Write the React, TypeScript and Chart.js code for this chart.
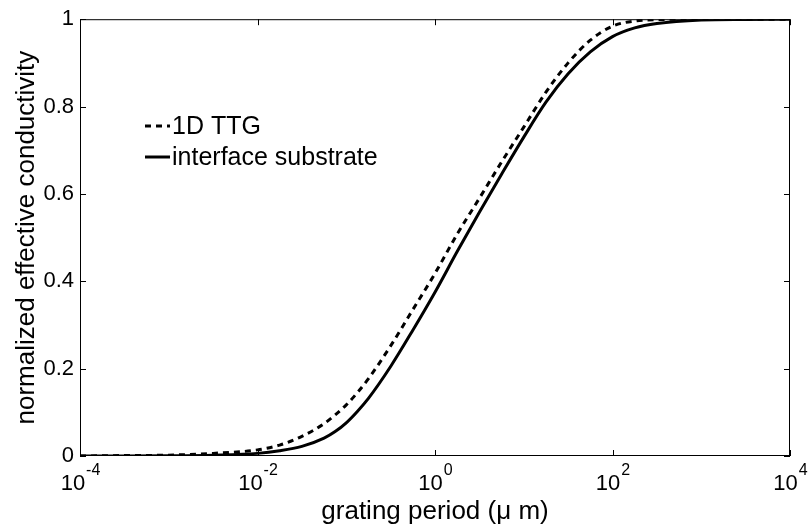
import React, { useEffect, useRef } from 'react';
import { Chart, registerables } from 'chart.js';

Chart.register(...registerables);

// log10 of grating period (µm)
const logPeriod = [-4, -3.5, -3, -2.5, -2, -1.75, -1.5, -1.25, -1.125, -1, -0.875, -0.75, -0.5, -0.25, 0, 0.25, 0.5, 0.75, 1, 1.25, 1.5, 1.75, 2, 2.25, 2.5, 3, 3.5, 4];
const ttg = [0, 0.001, 0.002, 0.006, 0.014, 0.025, 0.045, 0.074, 0.094, 0.117, 0.145, 0.177, 0.252, 0.335, 0.418, 0.508, 0.59, 0.673, 0.753, 0.833, 0.9, 0.952, 0.984, 0.996, 0.999, 1.0, 1.0, 1.0];
const interfaceSub = [0, 0, 0.0005, 0.002, 0.006, 0.012, 0.022, 0.041, 0.056, 0.076, 0.102, 0.132, 0.205, 0.288, 0.375, 0.468, 0.558, 0.645, 0.73, 0.81, 0.875, 0.925, 0.96, 0.98, 0.99, 0.998, 0.9995, 1.0];
const seriesLabels = ['1D TTG', 'interface substrate'];
const xTickExponents = [-4, -2, 0, 2, 4];
const yTickValues = [0, 0.2, 0.4, 0.6, 0.8, 1];
const yTickLabels = ['0', '0.2', '0.4', '0.6', '0.8', '1'];
const xTitle = 'grating period (\u03bc m)';
const yTitle = 'normalized effective conductivity';

const FONT = '"Liberation Sans", Arial, Helvetica, sans-serif';

const framePlugin = {
  id: 'frameAndLabels',
  afterDraw(chart: any) {
    const { ctx, chartArea: a, scales } = chart;
    const xs = scales.x;
    const ys = scales.y;
    ctx.save();
    ctx.strokeStyle = '#000';
    ctx.lineWidth = 1;
    ctx.strokeRect(a.left + 0.5, a.top + 0.5, a.right - a.left - 1, a.bottom - a.top - 1);
    const tl = 6;
    ctx.beginPath();
    xTickExponents.forEach((e) => {
      const px = Math.round(xs.getPixelForValue(Math.pow(10, e))) + 0.5;
      ctx.moveTo(px, a.bottom);
      ctx.lineTo(px, a.bottom - tl);
      ctx.moveTo(px, a.top);
      ctx.lineTo(px, a.top + tl);
    });
    yTickValues.forEach((v) => {
      const py = Math.round(ys.getPixelForValue(v)) + 0.5;
      ctx.moveTo(a.left, py);
      ctx.lineTo(a.left + tl, py);
      ctx.moveTo(a.right, py);
      ctx.lineTo(a.right - tl, py);
    });
    ctx.stroke();

    // x tick labels with superscript exponents
    ctx.fillStyle = '#000';
    ctx.textBaseline = 'alphabetic';
    ctx.textAlign = 'left';
    xTickExponents.forEach((e) => {
      const px = xs.getPixelForValue(Math.pow(10, e));
      ctx.font = `22px ${FONT}`;
      const wBase = ctx.measureText('10').width;
      ctx.font = `16px ${FONT}`;
      const expText = e < 0 ? '-' + Math.abs(e) : String(e);
      const wExp = ctx.measureText(expText).width;
      const start = px - (wBase + wExp) / 2;
      ctx.font = `22px ${FONT}`;
      ctx.fillText('10', start, a.bottom + 34);
      ctx.font = `16px ${FONT}`;
      ctx.fillText(expText, start + wBase + 1, a.bottom + 19);
    });

    // legend
    const ds = chart.data.datasets;
    const lx0 = 145, lx1 = 170, tx = 172;
    const rows = [126, 157];
    ctx.font = `25px ${FONT}`;
    ctx.textBaseline = 'middle';
    ds.forEach((d: any, i: number) => {
      ctx.beginPath();
      ctx.lineWidth = 3;
      ctx.setLineDash(d.borderDash || []);
      ctx.moveTo(lx0, rows[i]);
      ctx.lineTo(lx1, rows[i]);
      ctx.stroke();
      ctx.setLineDash([]);
      ctx.fillText(d.label, tx, rows[i] + 1);
    });
    ctx.restore();
  },
};

export default function App() {
  const ref = useRef<HTMLCanvasElement | null>(null);
  useEffect(() => {
    document.body.style.margin = '0';
    const canvas = ref.current;
    if (!canvas) return;
    const toPts = (vals: number[]) => logPeriod.map((e, i) => ({ x: Math.pow(10, e), y: vals[i] }));
    const chart = new Chart(canvas, {
      type: 'line',
      data: {
        datasets: [
          {
            label: seriesLabels[0],
            data: toPts(ttg),
            borderColor: '#000',
            borderWidth: 3,
            borderDash: [6, 5],
            pointRadius: 0,
            cubicInterpolationMode: 'monotone',
            fill: false,
          },
          {
            label: seriesLabels[1],
            data: toPts(interfaceSub),
            borderColor: '#000',
            borderWidth: 3,
            pointRadius: 0,
            cubicInterpolationMode: 'monotone',
            fill: false,
          },
        ],
      },
      options: {
        animation: false,
        responsive: false,
        layout: { padding: { left: 3, right: 21, top: 16, bottom: 0 } },
        plugins: { legend: { display: false }, tooltip: { enabled: false } },
        scales: {
          x: {
            type: 'logarithmic',
            min: 1e-4,
            max: 1e4,
            grid: { display: false, drawTicks: false },
            border: { display: false },
            afterBuildTicks: (s: any) => {
              s.ticks = xTickExponents.map((e) => ({ value: Math.pow(10, e) }));
            },
            ticks: { callback: () => '', display: false },
            afterFit: (s: any) => {
              s.height = 72;
            },
            title: {
              display: true,
              text: xTitle,
              color: '#000',
              font: { family: FONT, size: 26 },
              padding: { top: 0, bottom: 1 },
            },
          },
          y: {
            min: 0,
            max: 1,
            grid: { display: false, drawTicks: false },
            border: { display: false },
            afterBuildTicks: (s: any) => {
              s.ticks = yTickValues.map((v) => ({ value: v }));
            },
            ticks: {
              color: '#000',
              font: { family: FONT, size: 22 },
              padding: 6,
              callback: (_v: any, i: number) => yTickLabels[i],
            },
            afterFit: (s: any) => {
              s.width = 77;
            },
            title: {
              display: true,
              text: yTitle,
              color: '#000',
              font: { family: FONT, size: 26 },
              padding: { top: 8, bottom: 0 },
            },
          },
        },
      },
      plugins: [framePlugin],
    } as any);
    return () => chart.destroy();
  }, []);
  return (
    <div style={{ width: 811, height: 528, background: '#fff' }}>
      <canvas ref={ref} width={811} height={528} style={{ display: 'block' }} />
    </div>
  );
}
